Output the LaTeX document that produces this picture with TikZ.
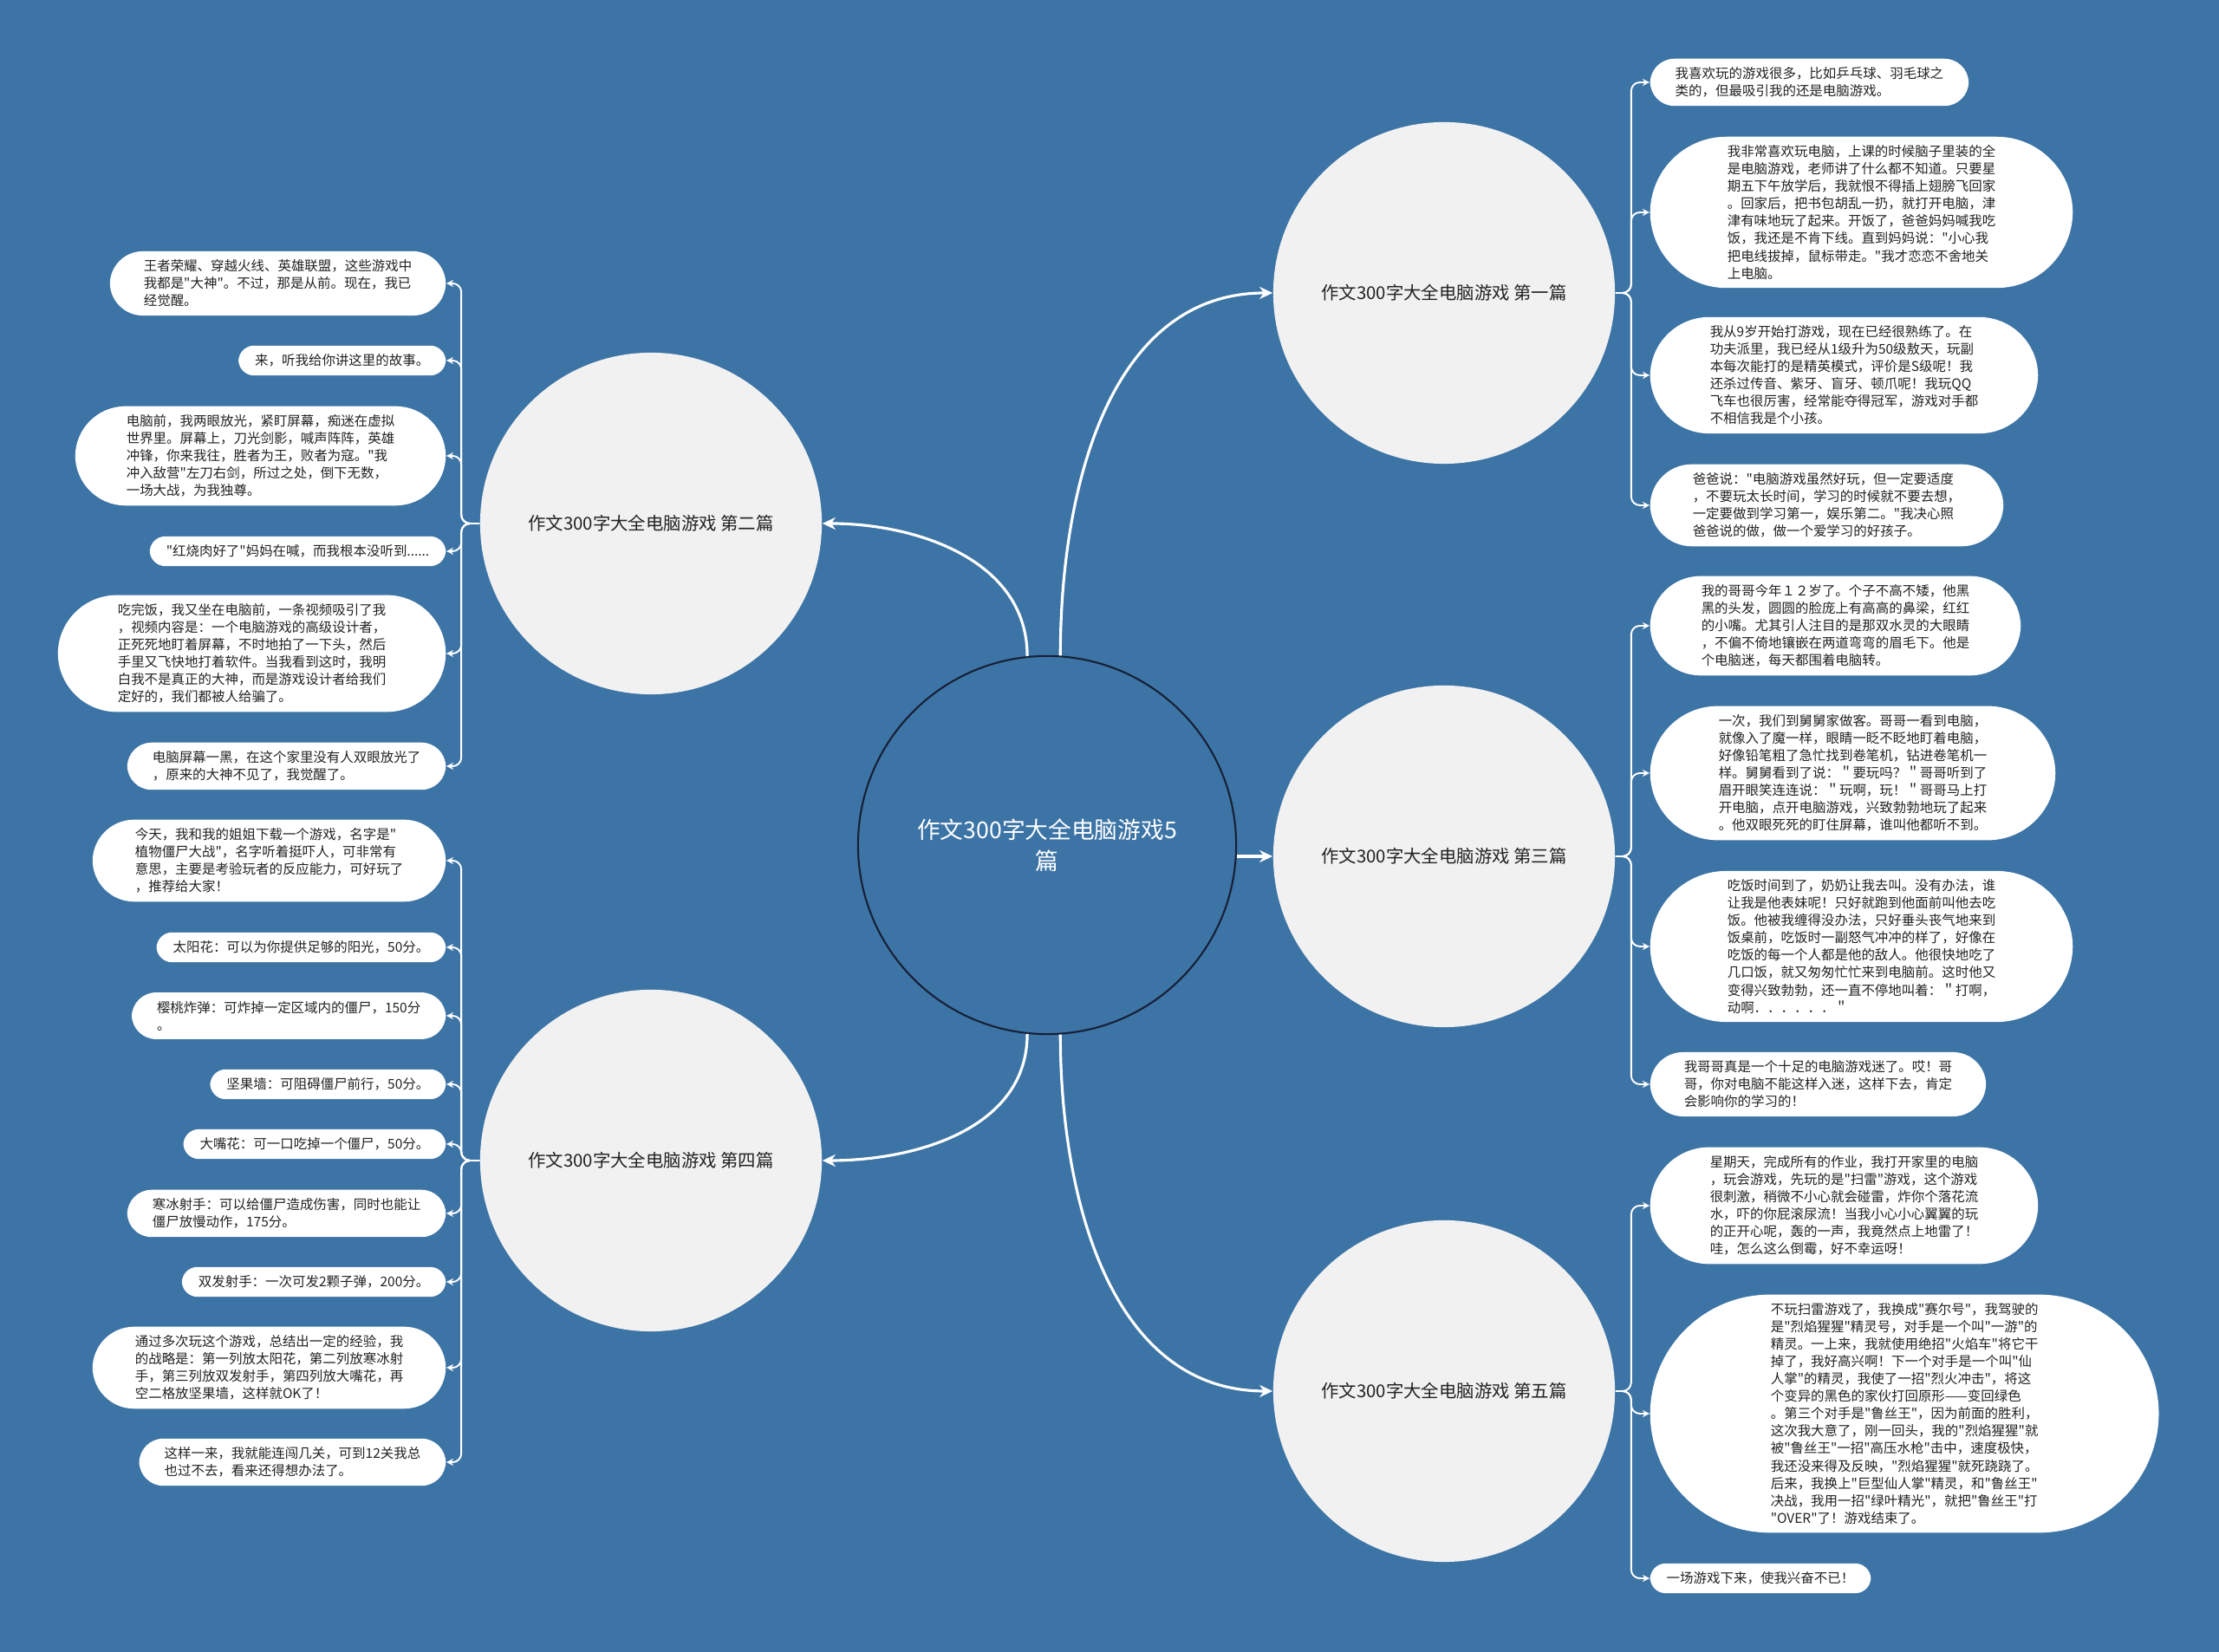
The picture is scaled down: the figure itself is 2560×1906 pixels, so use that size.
\documentclass[tikz,border=0pt]{standalone}
\usepackage{fontspec}
\setmainfont{Noto Sans CJK SC}[Ligatures=TeXOff]
\usetikzlibrary{arrows.meta}
\definecolor{fond}{RGB}{61,116,166}
\definecolor{bulle}{RGB}{241,241,241}
\definecolor{encre}{RGB}{34,34,34}
\definecolor{bord}{RGB}{22,32,54}
\newcommand{\titre}{作文300字大全电脑游戏}
\tikzset{
  % #1 = nombre de lignes du texte
  feuille/.style={rectangle,fill=white,text=encre,align=left,
    rounded corners=#1*0.1cm+0.08cm,inner xsep=#1*0.1cm+0.09cm,inner ysep=2.8pt,
    font=\fontsize{4.4}{5.7}\selectfont},
  branche/.style={circle,fill=bulle,text=encre,minimum size=3.94cm,inner sep=0,
    font=\fontsize{5.8}{7}\selectfont},
  lien/.style={white,line width=0.55pt,rounded corners=0.1cm,-{Stealth[length=0.8mm,width=0.8mm]}},
  lienp/.style={white,line width=0.9pt,-{Stealth[length=1.5mm,width=1.4mm]}},
}
\begin{document}
\begin{tikzpicture}[x=0.01cm,y=0.01cm]
  % --- Fond ---
  \useasboundingbox (0,0) rectangle (2560,1906);
  \fill[fond] (0,0) rectangle (2560,1906);

  % --- Noeud central ---
  \node[circle,draw=bord,line width=0.6pt,fill=fond,minimum size=4.36cm,text=white,
    align=center,font=\fontsize{7.6}{10.2}\selectfont] (centre) at (1208,931) {\titre5\\篇};

  % --- Les cinq articles ---
  \foreach \nom/\xx/\yy/\rang in {m1/1666/1568/一,m2/751/1302/二,m3/1666/918/三,m4/751/567/四,m5/1666/301/五}
    \node[branche] (\nom) at (\xx,\yy) {\titre\ 第\rang 篇};

  % --- Feuilles de droite ---
  \node[feuille=2,anchor=west] (r1) at (1903,1811) {我喜欢玩的游戏很多，比如乒乓球、羽毛球之\\类的，但最吸引我的还是电脑游戏。};
  \node[feuille=8,anchor=west] (r2) at (1903,1661) {我非常喜欢玩电脑，上课的时候脑子里装的全\\是电脑游戏，老师讲了什么都不知道。只要星\\期五下午放学后，我就恨不得插上翅膀飞回家\\。回家后，把书包胡乱一扔，就打开电脑，津\\津有味地玩了起来。开饭了，爸爸妈妈喊我吃\\饭，我还是不肯下线。直到妈妈说："小心我\\把电线拔掉，鼠标带走。"我才恋恋不舍地关\\上电脑。};
  \node[feuille=6,anchor=west] (r3) at (1903,1473) {我从9岁开始打游戏，现在已经很熟练了。在\\功夫派里，我已经从1级升为50级敖天，玩副\\本每次能打的是精英模式，评价是S级呢！我\\还杀过传音、紫牙、盲牙、顿爪呢！我玩QQ\\飞车也很厉害，经常能夺得冠军，游戏对手都\\不相信我是个小孩。};
  \node[feuille=4,anchor=west] (r4) at (1903,1323) {爸爸说："电脑游戏虽然好玩，但一定要适度\\，不要玩太长时间，学习的时候就不要去想，\\一定要做到学习第一，娱乐第二。"我决心照\\爸爸说的做，做一个爱学习的好孩子。};
  \node[feuille=5,anchor=west] (r5) at (1903,1184) {我的哥哥今年１２岁了。个子不高不矮，他黑\\黑的头发，圆圆的脸庞上有高高的鼻梁，红红\\的小嘴。尤其引人注目的是那双水灵的大眼睛\\，不偏不倚地镶嵌在两道弯弯的眉毛下。他是\\个电脑迷，每天都围着电脑转。};
  \node[feuille=7,anchor=west] (r6) at (1903,1014) {一次，我们到舅舅家做客。哥哥一看到电脑，\\就像入了魔一样，眼睛一眨不眨地盯着电脑，\\好像铅笔粗了急忙找到卷笔机，钻进卷笔机一\\样。舅舅看到了说：＂要玩吗？＂哥哥听到了\\眉开眼笑连连说：＂玩啊，玩！＂哥哥马上打\\开电脑，点开电脑游戏，兴致勃勃地玩了起来\\。他双眼死死的盯住屏幕，谁叫他都听不到。};
  \node[feuille=8,anchor=west] (r7) at (1903,814) {吃饭时间到了，奶奶让我去叫。没有办法，谁\\让我是他表妹呢！只好就跑到他面前叫他去吃\\饭。他被我缠得没办法，只好垂头丧气地来到\\饭桌前，吃饭时一副怒气冲冲的样了，好像在\\吃饭的每一个人都是他的敌人。他很快地吃了\\几口饭，就又匆匆忙忙来到电脑前。这时他又\\变得兴致勃勃，还一直不停地叫着：＂打啊，\\动啊．．．．．．＂};
  \node[feuille=3,anchor=west] (r8) at (1903,655) {我哥哥真是一个十足的电脑游戏迷了。哎！哥\\哥，你对电脑不能这样入迷，这样下去，肯定\\会影响你的学习的！};
  \node[feuille=6,anchor=west] (r9) at (1903,515) {星期天，完成所有的作业，我打开家里的电脑\\，玩会游戏，先玩的是"扫雷"游戏，这个游戏\\很刺激，稍微不小心就会碰雷，炸你个落花流\\水，吓的你屁滚尿流！当我小心小心翼翼的玩\\的正开心呢，轰的一声，我竟然点上地雷了！\\哇，怎么这么倒霉，好不幸运呀！};
  \node[feuille=13,anchor=west] (r10) at (1903,275) {不玩扫雷游戏了，我换成"赛尔号"，我驾驶的\\是"烈焰猩猩"精灵号，对手是一个叫"一游"的\\精灵。一上来，我就使用绝招"火焰车"将它干\\掉了，我好高兴啊！下一个对手是一个叫"仙\\人掌"的精灵，我使了一招"烈火冲击"，将这\\个变异的黑色的家伙打回原形——变回绿色\\。第三个对手是"鲁丝王"，因为前面的胜利，\\这次我大意了，刚一回头，我的"烈焰猩猩"就\\被"鲁丝王"一招"高压水枪"击中，速度极快，\\我还没来得及反映，"烈焰猩猩"就死跷跷了。\\后来，我换上"巨型仙人掌"精灵，和"鲁丝王"\\决战，我用一招"绿叶精光"，就把"鲁丝王"打\\"OVER"了！游戏结束了。};
  \node[feuille=1,anchor=west] (r11) at (1903,85) {一场游戏下来，使我兴奋不已！};

  % --- Feuilles de gauche ---
  \node[feuille=3,anchor=east] (l1) at (515,1579) {王者荣耀、穿越火线、英雄联盟，这些游戏中\\我都是"大神"。不过，那是从前。现在，我已\\经觉醒。};
  \node[feuille=1,anchor=east] (l2) at (515,1490) {来，听我给你讲这里的故事。};
  \node[feuille=5,anchor=east] (l3) at (515,1380) {电脑前，我两眼放光，紧盯屏幕，痴迷在虚拟\\世界里。屏幕上，刀光剑影，喊声阵阵，英雄\\冲锋，你来我往，胜者为王，败者为寇。"我\\冲入敌营"左刀右剑，所过之处，倒下无数，\\一场大战，为我独尊。};
  \node[feuille=1,anchor=east] (l4) at (515,1270) {"红烧肉好了"妈妈在喊，而我根本没听到......};
  \node[feuille=6,anchor=east] (l5) at (515,1152) {吃完饭，我又坐在电脑前，一条视频吸引了我\\，视频内容是：一个电脑游戏的高级设计者，\\正死死地盯着屏幕，不时地拍了一下头，然后\\手里又飞快地打着软件。当我看到这时，我明\\白我不是真正的大神，而是游戏设计者给我们\\定好的，我们都被人给骗了。};
  \node[feuille=2,anchor=east] (l6) at (515,1022) {电脑屏幕一黑，在这个家里没有人双眼放光了\\，原来的大神不见了，我觉醒了。};
  \node[feuille=4,anchor=east] (l7) at (515,913) {今天，我和我的姐姐下载一个游戏，名字是"\\植物僵尸大战"，名字听着挺吓人，可非常有\\意思，主要是考验玩者的反应能力，可好玩了\\，推荐给大家！};
  \node[feuille=1,anchor=east] (l8) at (515,813) {太阳花：可以为你提供足够的阳光，50分。};
  \node[feuille=2,anchor=east] (l9) at (515,734) {樱桃炸弹：可炸掉一定区域内的僵尸，150分\\。};
  \node[feuille=1,anchor=east] (l10) at (515,655) {坚果墙：可阻碍僵尸前行，50分。};
  \node[feuille=1,anchor=east] (l11) at (515,586) {大嘴花：可一口吃掉一个僵尸，50分。};
  \node[feuille=2,anchor=east] (l12) at (515,506) {寒冰射手：可以给僵尸造成伤害，同时也能让\\僵尸放慢动作，175分。};
  \node[feuille=1,anchor=east] (l13) at (515,427) {双发射手：一次可发2颗子弹，200分。};
  \node[feuille=4,anchor=east] (l14) at (515,328) {通过多次玩这个游戏，总结出一定的经验，我\\的战略是：第一列放太阳花，第二列放寒冰射\\手，第三列放双发射手，第四列放大嘴花，再\\空二格放坚果墙，这样就OK了！};
  \node[feuille=2,anchor=east] (l15) at (515,219) {这样一来，我就能连闯几关，可到12关我总\\也过不去，看来还得想办法了。};

  % --- Liens centre -> articles ---
  \draw[lienp] (centre.96) to[out=90,in=0] (m2.east);
  \draw[lienp] (centre.86) to[out=90,in=180] (m1.west);
  \draw[lienp] (centre.264) to[out=-90,in=0] (m4.east);
  \draw[lienp] (centre.274) to[out=-90,in=180] (m5.west);
  \draw[lienp] (centre.east |- m3.west) -- (m3.west);

  % --- Liens articles -> feuilles ---
  \foreach \art/\f in {m1/r1,m1/r2,m1/r3,m1/r4,m3/r5,m3/r6,m3/r7,m3/r8,m5/r9,m5/r10,m5/r11}
    \draw[lien] (\art.east) -- ++(18,0) |- (\f.west);
  \foreach \art/\f in {m2/l1,m2/l2,m2/l3,m2/l4,m2/l5,m2/l6,m4/l7,m4/l8,m4/l9,m4/l10,m4/l11,m4/l12,m4/l13,m4/l14,m4/l15}
    \draw[lien] (\art.west) -- ++(-21,0) |- (\f.east);
\end{tikzpicture}
\end{document}
